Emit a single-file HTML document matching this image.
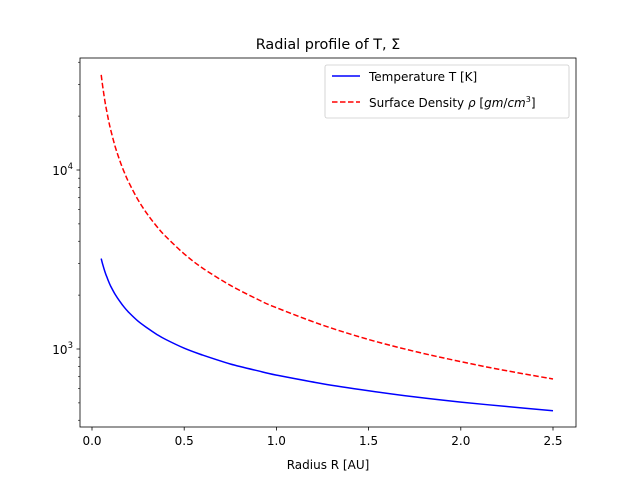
<!DOCTYPE html>
<html><head><meta charset="utf-8"><style>
body{margin:0;background:#fff}
svg{font-family:"DejaVu Sans","Liberation Sans",sans-serif}
</style></head><body>
<svg id="chart" width="640" height="480" viewBox="0 0 640 480">
<rect width="640" height="480" fill="#fff"/>
<text x="328" y="49" font-size="14.4" text-anchor="middle">Radial profile of T, Σ</text>
<text x="328" y="469" font-size="12" text-anchor="middle">Radius R [AU]</text>
<g id="xticks"></g>
<g id="yticks"></g>
<g id="series"></g>
<rect x="80" y="58" width="496" height="369" fill="none" stroke="#000" stroke-width="0.8"/>
<g>
<rect x="325" y="65" width="244" height="53" rx="2" fill="#fff" stroke="#ccc" stroke-width="0.8"/>
<line x1="332" y1="76" x2="360" y2="76" stroke="#0000ff" stroke-width="1.5"/>
<text x="369" y="81" font-size="12">Temperature T [K]</text>
<line x1="332" y1="102" x2="360" y2="102" stroke="#ff0000" stroke-width="1.5" stroke-dasharray="5.5,2.5"/>
<text x="369" y="107" font-size="12">Surface Density <tspan font-style="italic">ρ</tspan> [<tspan font-style="italic">gm</tspan>/<tspan font-style="italic">cm</tspan><tspan font-size="8" dy="-5">3</tspan><tspan dy="5">]</tspan></text>
</g>
</svg>
<script>
const radius = [0.05,0.06,0.07,0.08,0.09,0.1,0.125,0.15,0.175,0.2,0.25,0.3,0.35,0.4,0.5,0.6,0.75,0.9,1.0,1.25,1.5,1.75,2.0,2.25,2.5];
const temperature = [3200,2920,2705,2530,2385,2260,2025,1850,1710,1600,1430,1310,1210,1130,1010,925,825,755,715,640,585,540,505,477,452];
const density = [34000,28330,24290,21250,18890,17000,13600,11330,9710,8500,6800,5670,4860,4250,3400,2830,2270,1890,1700,1360,1130,970,850,755,680];
const xTickValues = [0.0,0.5,1.0,1.5,2.0,2.5];
const xTickLabels = ["0.0","0.5","1.0","1.5","2.0","2.5"];
const yMajorValues = [1000,10000];
const yMinorValues = [400,500,600,700,800,900,2000,3000,4000,5000,6000,7000,8000,9000,20000,30000,40000];

const NS="http://www.w3.org/2000/svg";
const xs = v => 92 + v*184.4;
const ys = v => 349 - (Math.log10(v)-3)*179;
function mk(tag, attrs, parent){const e=document.createElementNS(NS,tag);for(const k in attrs)e.setAttribute(k,attrs[k]);parent.appendChild(e);return e;}
const xg=document.getElementById('xticks'), yg=document.getElementById('yticks'), sg=document.getElementById('series');
xTickValues.forEach((v,i)=>{
  const l=mk('line',{x1:xs(v),x2:xs(v),y1:427,y2:430.5,stroke:'#000','stroke-width':0.8},xg);
  
  
  const t=mk('text',{x:xs(v),y:445,'font-size':12,'text-anchor':'middle'},xg);
  t.textContent=xTickLabels[i];
  
  
});
yMajorValues.forEach(v=>{
  const l=mk('line',{x1:76.5,x2:80,y1:ys(v),y2:ys(v),stroke:'#000','stroke-width':0.8},yg);
  
  
  const t=mk('text',{x:73,y:ys(v)+5,'font-size':12,'text-anchor':'end'},yg);
  t.innerHTML='10<tspan font-size="8.5" dy="-6">'+Math.round(Math.log10(v))+'</tspan>';
  
  
});
yMinorValues.forEach(v=>{
  const l=mk('line',{x1:78,x2:80,y1:ys(v),y2:ys(v),stroke:'#000','stroke-width':0.6},yg);
  
  
});
function smoothPath(vals){
  const p=radius.map((r,i)=>[xs(r),ys(vals[i])]);
  let d='M'+p[0][0].toFixed(1)+','+p[0][1].toFixed(1);
  for(let i=0;i<p.length-1;i++){
    const p0=p[Math.max(0,i-1)],p1=p[i],p2=p[i+1],p3=p[Math.min(p.length-1,i+2)];
    const c1=[p1[0]+(p2[0]-p0[0])/6,p1[1]+(p2[1]-p0[1])/6];
    const c2=[p2[0]-(p3[0]-p1[0])/6,p2[1]-(p3[1]-p1[1])/6];
    d+=' C'+c1.map(n=>n.toFixed(1)).join(',')+' '+c2.map(n=>n.toFixed(1)).join(',')+' '+p2[0].toFixed(1)+','+p2[1].toFixed(1);
  }
  return d;
}
const pt=mk('path',{d:smoothPath(temperature),fill:'none',stroke:'#0000ff','stroke-width':1.5,'stroke-linejoin':'round'},sg);


const pd=mk('path',{d:smoothPath(density),fill:'none',stroke:'#ff0000','stroke-width':1.5,'stroke-dasharray':'5.5,2.5','stroke-linejoin':'round'},sg);


</script>
</body></html>
